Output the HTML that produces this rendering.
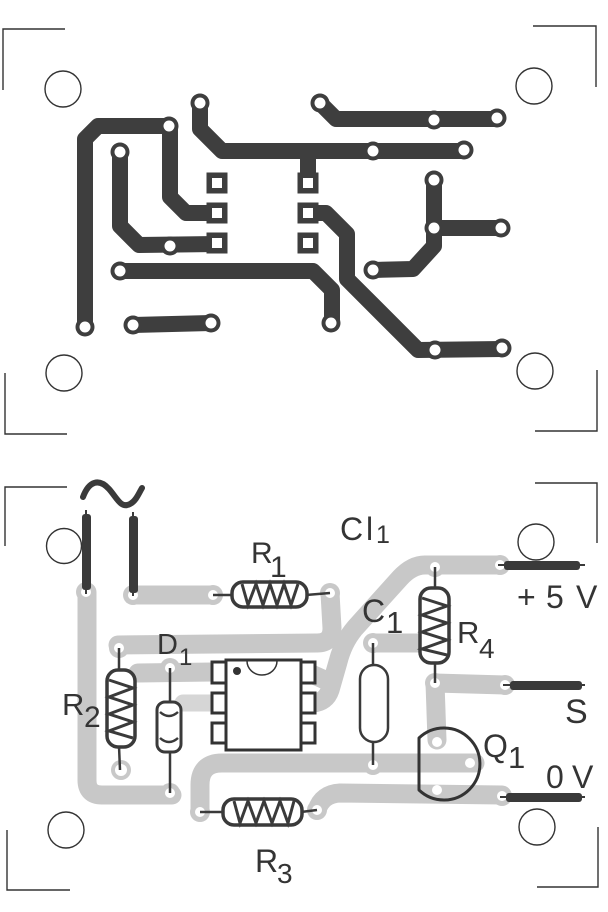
<!DOCTYPE html>
<html><head><meta charset="utf-8"><style>
html,body{margin:0;padding:0;background:#fff;}
svg{display:block;}
text{font-family:"Liberation Sans",Arial,sans-serif;fill:#343434;}
</style></head><body>
<svg width="608" height="912" viewBox="0 0 608 912" xmlns="http://www.w3.org/2000/svg">
<rect width="608" height="912" fill="#fff"/>

<!-- ===== TOP: copper layout ===== -->
<g stroke="#333" stroke-width="1.4" fill="none">
  <path d="M3,90 L3,29 L65,29"/>
  <path d="M533,26 L596,26 L596,87"/>
  <path d="M5,373 L5,434 L67,434"/>
  <path d="M597,370 L597,431 L535,431"/>
  <circle cx="63" cy="89" r="18"/>
  <circle cx="534" cy="86" r="18"/>
  <circle cx="64" cy="373" r="18"/>
  <circle cx="535" cy="371" r="18"/>
</g>

<g stroke="#3e3e3e" stroke-width="16" fill="none" stroke-linejoin="round" stroke-linecap="round">
  <path d="M169,126 L98,126 L85,139 L85,327"/>
  <path d="M120,152 L120,226 L139,245 L217,244"/>
  <path d="M170,126 L170,197 L186,213 L217,213"/>
  <path d="M200,103 L200,129 L222,151 L464,151"/>
  <path d="M308,151 L308,183"/>
  <path d="M320,103 L336,119 L497,119"/>
  <path d="M434,180 L434,246 L413,269 L373,270"/>
  <path d="M434,228 L501,228"/>
  <path d="M308,213 L326,213 L347,234 L347,279 L418,350 L502,349"/>
  <path d="M120,271 L313,271 L332,290 L332,323"/>
  <path d="M133,325 L211,323"/>
</g>

<g fill="#3e3e3e">
  <circle cx="169" cy="126" r="9.5"/><circle cx="85" cy="327" r="9.5"/>
  <circle cx="120" cy="152" r="9.5"/><circle cx="170" cy="246" r="9.5"/>
  <circle cx="200" cy="103" r="9.5"/><circle cx="373" cy="151" r="9.5"/>
  <circle cx="464" cy="150" r="9.5"/><circle cx="320" cy="103" r="9.5"/>
  <circle cx="434" cy="120" r="9.5"/><circle cx="497" cy="118" r="9.5"/>
  <circle cx="434" cy="180" r="9.5"/><circle cx="434" cy="228" r="9.5"/>
  <circle cx="501" cy="228" r="9.5"/><circle cx="373" cy="270" r="9.5"/>
  <circle cx="435" cy="350" r="9.5"/><circle cx="502" cy="348" r="9.5"/>
  <circle cx="120" cy="271" r="9.5"/><circle cx="331" cy="323" r="9.5"/>
  <circle cx="133" cy="325" r="9.5"/><circle cx="211" cy="323" r="9.5"/>
  <rect x="206.5" y="172.5" width="21" height="21"/>
  <rect x="206.5" y="202.5" width="21" height="21"/>
  <rect x="206.5" y="232.5" width="21" height="21"/>
  <rect x="297.5" y="172.5" width="21" height="21"/>
  <rect x="297.5" y="202.5" width="21" height="21"/>
  <rect x="297.5" y="232.5" width="21" height="21"/>
</g>
<g fill="#fff">
  <circle cx="169" cy="126" r="5.5"/><circle cx="85" cy="327" r="5.5"/>
  <circle cx="120" cy="152" r="5.5"/><circle cx="170" cy="246" r="5.5"/>
  <circle cx="200" cy="103" r="5.5"/><circle cx="373" cy="151" r="5.5"/>
  <circle cx="464" cy="150" r="5.5"/><circle cx="320" cy="103" r="5.5"/>
  <circle cx="434" cy="120" r="5.5"/><circle cx="497" cy="118" r="5.5"/>
  <circle cx="434" cy="180" r="5.5"/><circle cx="434" cy="228" r="5.5"/>
  <circle cx="501" cy="228" r="5.5"/><circle cx="373" cy="270" r="5.5"/>
  <circle cx="435" cy="350" r="5.5"/><circle cx="502" cy="348" r="5.5"/>
  <circle cx="120" cy="271" r="5.5"/><circle cx="331" cy="323" r="5.5"/>
  <circle cx="133" cy="325" r="5.5"/><circle cx="211" cy="323" r="5.5"/>
  <rect x="212" y="178" width="10" height="10"/>
  <rect x="212" y="208" width="10" height="10"/>
  <rect x="212" y="238" width="10" height="10"/>
  <rect x="303" y="178" width="10" height="10"/>
  <rect x="303" y="208" width="10" height="10"/>
  <rect x="303" y="238" width="10" height="10"/>
</g>

<!-- ===== BOTTOM: component layout ===== -->
<g stroke="#333" stroke-width="1.4" fill="none">
  <path d="M5,546 L5,487 L67,487"/>
  <path d="M535,483 L597,483 L597,543"/>
  <path d="M7,830 L7,890 L70,890"/>
  <path d="M598,827 L598,887 L537,887"/>
  <circle cx="64" cy="546" r="17.5"/>
  <circle cx="536" cy="542" r="18"/>
  <circle cx="66" cy="830" r="18"/>
  <circle cx="537" cy="827" r="18"/>
</g>

<!-- gray traces -->
<g stroke="#c8c8c8" stroke-width="19" fill="none" stroke-linejoin="round" stroke-linecap="round">
  <path d="M87,592 L87,780 Q87,795 102,795 L172,795"/>
  <path d="M133,595 L213,595"/>
  <path d="M330,593 L332,628 Q332,643 317,643 L118,645"/>
  <path d="M138,673 L213,672"/>
  <path d="M500,565 L425,565 Q412,565 400,578 L355,628 Q343,642 338,662 L330,690 Q326,702 313,703"/>
  <path d="M307,672 L325,680"/>
  <path d="M373,643 L432,643"/>
  <path d="M435,683 L505,685"/>
  <path d="M435,683 L437,740"/>
  <path d="M200,812 L200,785 Q200,763 222,763 L475,763"/>
  <path d="M317,810 Q322,794 340,793 L502,795"/>
</g>
<path d="M183,703 L213,703" stroke="#d6d6d6" stroke-width="17" stroke-linecap="round"/>

<!-- pad holes with halo -->
<g fill="#c8c8c8">
  <circle cx="86" cy="592" r="10"/><circle cx="133" cy="595" r="10"/>
  <circle cx="213" cy="595" r="10"/><circle cx="330" cy="593" r="10"/>
  <circle cx="119" cy="648" r="10"/><circle cx="121" cy="770" r="10"/>
  <circle cx="170" cy="668" r="10"/><circle cx="170" cy="793" r="10"/>
  <circle cx="373" cy="643" r="10"/><circle cx="373" cy="765" r="10"/>
  <circle cx="435" cy="567" r="10"/><circle cx="435" cy="683" r="10"/>
  <circle cx="200" cy="812" r="10"/><circle cx="317" cy="810" r="10"/>
  <circle cx="500" cy="565" r="10"/><circle cx="505" cy="685" r="10"/><circle cx="502" cy="796" r="10"/>
</g>
<g fill="#fff">
  <circle cx="86" cy="592" r="5"/><circle cx="133" cy="595" r="5"/>
  <circle cx="213" cy="595" r="5"/><circle cx="330" cy="593" r="5"/>
  <circle cx="119" cy="648" r="5"/><circle cx="121" cy="770" r="6"/>
  <circle cx="170" cy="668" r="5"/><circle cx="170" cy="793" r="5"/>
  <circle cx="373" cy="643" r="5"/><circle cx="373" cy="765" r="5"/>
  <circle cx="435" cy="567" r="5"/><circle cx="435" cy="683" r="5"/>
  <circle cx="200" cy="812" r="5"/><circle cx="317" cy="810" r="5"/>
  <circle cx="500" cy="565" r="5"/><circle cx="505" cy="685" r="5"/><circle cx="502" cy="796" r="5"/>
  <circle cx="437" cy="742" r="5"/><circle cx="470" cy="763" r="5"/><circle cx="437" cy="790" r="5"/>
</g>

<!-- tilde -->
<path d="M83,497 C89,481 99,478 109,489 C117,498 121,509 130,504 C136,501 139,493 142,488" stroke="#3a3a3a" stroke-width="6" fill="none" stroke-linecap="round"/>

<!-- wire terminals -->
<g fill="#3a3a3a">
  <rect x="82" y="514" width="9" height="76" rx="3"/>
  <rect x="129" y="516" width="9" height="77" rx="3"/>
  <rect x="504" y="561" width="76" height="9" rx="3"/>
  <rect x="510" y="681" width="72" height="9" rx="3"/>
  <rect x="506" y="793" width="76" height="9" rx="3"/>
</g>
<g stroke="#3a3a3a" stroke-width="2" fill="none">
  <path d="M86,510 L86,594"/><path d="M133,512 L133,596"/>
  <path d="M498,565 L585,565"/><path d="M503,685 L585,685"/><path d="M500,797 L585,797"/>
</g>

<!-- leads -->
<g stroke="#3a3a3a" stroke-width="2.5" fill="none">
  <path d="M213,595 L233,595"/><path d="M306,595 L330,593"/>
  <path d="M119,648 L119,671"/><path d="M119,746 L120,770"/>
  <path d="M170,668 L170,703"/><path d="M170,751 L170,793"/>
  <path d="M373,643 L373,666"/><path d="M373,741 L373,765"/>
  <path d="M435,567 L435,589"/><path d="M435,662 L435,683"/>
  <path d="M200,812 L224,812"/><path d="M301,812 L317,810"/>
</g>

<!-- R1 -->
<rect x="232" y="582" width="75" height="25" rx="11" fill="#fff" stroke="#3a3a3a" stroke-width="3.5"/>
<path d="M242,584 L248,605 L256,584 L263,605 L270,584 L277,605 L284,584 L291,605 L298,584" stroke="#3a3a3a" stroke-width="3" fill="none"/>
<!-- R3 -->
<rect x="223" y="799" width="79" height="26" rx="11" fill="#fff" stroke="#3a3a3a" stroke-width="3.5"/>
<path d="M234,801 L240,823 L248,801 L256,823 L264,801 L272,823 L280,801 L288,823 L294,801" stroke="#3a3a3a" stroke-width="3" fill="none"/>
<!-- R2 -->
<rect x="107" y="670" width="28" height="77" rx="11" fill="#fff" stroke="#3a3a3a" stroke-width="3.5"/>
<path d="M109,680 L133,688 L109,697 L133,705 L109,714 L133,722 L109,731 L133,738" stroke="#3a3a3a" stroke-width="3" fill="none"/>
<!-- R4 -->
<rect x="420" y="588" width="29" height="75" rx="11" fill="#fff" stroke="#3a3a3a" stroke-width="3.5"/>
<path d="M422,598 L447,606 L422,615 L447,623 L422,632 L447,640 L422,649 L447,655" stroke="#3a3a3a" stroke-width="3" fill="none"/>
<!-- D1 -->
<rect x="157" y="702" width="24" height="50" rx="8" fill="#fff" stroke="#3a3a3a" stroke-width="3"/>
<path d="M160,712 Q169,720 178,712 M160,738 Q169,746 178,738" stroke="#3a3a3a" stroke-width="2.5" fill="none"/>
<!-- C1 -->
<rect x="360" y="665" width="28" height="77" rx="14" fill="#fff" stroke="#3a3a3a" stroke-width="2.5"/>

<!-- IC -->
<rect x="226" y="660" width="75" height="90" fill="#fff" stroke="#333" stroke-width="3"/>
<path d="M247,661 A15,14 0 0 0 277,661" stroke="#333" stroke-width="1.5" fill="none"/>
<circle cx="237" cy="671" r="4" fill="#333"/>
<g fill="#fff" stroke="#333" stroke-width="3">
  <rect x="212" y="662" width="14" height="21"/>
  <rect x="212" y="693" width="14" height="20"/>
  <rect x="212" y="723" width="14" height="20"/>
  <rect x="301" y="662" width="14" height="21"/>
  <rect x="301" y="693" width="14" height="20"/>
  <rect x="301" y="723" width="14" height="20"/>
</g>
<g fill="#fff">
  <rect x="216" y="667" width="6" height="11"/><rect x="216" y="698" width="6" height="10"/><rect x="216" y="728" width="6" height="10"/>
  <rect x="305" y="667" width="6" height="11"/><rect x="305" y="698" width="6" height="10"/><rect x="305" y="728" width="6" height="10"/>
</g>

<!-- Q1 -->
<path d="M419,738 A36,36 0 1 1 419,790 Z" fill="none" stroke="#333" stroke-width="3" stroke-linejoin="round"/>

<!-- labels -->
<text x="251" y="563" font-size="30">R</text>
<text x="270" y="577" font-size="30">1</text>
<text x="340" y="540" font-size="32">C</text>
<text x="366" y="540" font-size="32">l</text>
<text x="376" y="543" font-size="25">1</text>
<text x="157" y="654" font-size="29">D</text>
<text x="179" y="665" font-size="24">1</text>
<text x="62" y="715" font-size="31">R</text>
<text x="84" y="727" font-size="30">2</text>
<text x="362" y="622" font-size="32">C</text>
<text x="386" y="633" font-size="31">1</text>
<text x="457" y="643" font-size="31">R</text>
<text x="479" y="658" font-size="28">4</text>
<text x="517" y="608" font-size="32">+</text>
<text x="546" y="608" font-size="32">5</text>
<text x="576" y="608" font-size="32">V</text>
<text x="565" y="723" font-size="34">S</text>
<text x="483" y="757" font-size="32">Q</text>
<text x="508" y="768" font-size="31">1</text>
<text x="546" y="788" font-size="32">0</text>
<text x="572" y="788" font-size="32">V</text>
<text x="255" y="872" font-size="32">R</text>
<text x="277" y="883" font-size="28">3</text>
</svg>
</body></html>
